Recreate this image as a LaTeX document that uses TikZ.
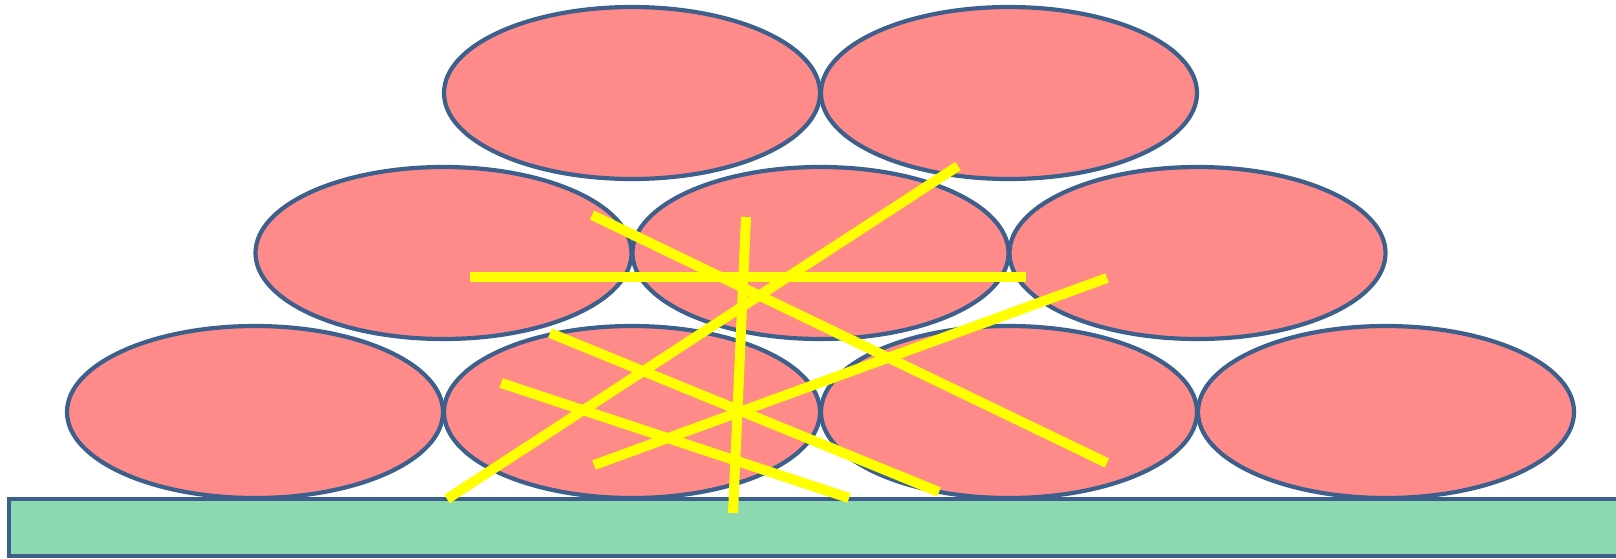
\documentclass[tikz,border=0pt]{standalone}
\usetikzlibrary{shapes.geometric}
\definecolor{cellfill}{RGB}{255,138,138}
\definecolor{edgeblue}{RGB}{60,95,140}
\definecolor{basegreen}{RGB}{140,217,176}
\definecolor{fibre}{RGB}{255,255,0}
\tikzset{
  cell/.style={ellipse, draw=edgeblue, fill=cellfill, line width=4.2pt,
    minimum width=376pt, minimum height=172pt, inner sep=0pt},
  base/.style={draw=edgeblue, fill=basegreen, line width=4pt},
  fibreline/.style={draw=fibre, line width=10pt, line cap=butt}
}
\begin{document}
\begin{tikzpicture}[x=1pt,y=-1pt]
\useasboundingbox (0,0) rectangle (1616,558);
\fill[white] (0,0) rectangle (1616,558);
\draw[base] (9,499) rectangle (1625,556);
% bottom row
\node[cell] (b1) at (255,412) {};
\node[cell] (b2) at (632,412) {};
\node[cell] (b3) at (1009,412) {};
\node[cell] (b4) at (1386,412) {};
% middle row
\node[cell] (m1) at (443.5,253) {};
\node[cell] (m2) at (820.5,253) {};
\node[cell] (m3) at (1197.5,253) {};
% top row
\node[cell] (t1) at (632,93) {};
\node[cell] (t2) at (1009,93) {};
% fibres
\coordinate (f1a) at (470,277);  \coordinate (f1b) at (1026,277);
\coordinate (f2a) at (592,215);  \coordinate (f2b) at (1107,463);
\coordinate (f3a) at (746,217);  \coordinate (f3b) at (733,513);
\coordinate (f4a) at (447,499);  \coordinate (f4b) at (958,166);
\coordinate (f5a) at (594,465);  \coordinate (f5b) at (1107,278);
\coordinate (f6a) at (550,333);  \coordinate (f6b) at (939,492);
\coordinate (f7a) at (501,383);  \coordinate (f7b) at (849,498);
\draw[fibreline] (f1a) -- (f1b);
\draw[fibreline] (f2a) -- (f2b);
\draw[fibreline] (f3a) -- (f3b);
\draw[fibreline] (f4a) -- (f4b);
\draw[fibreline] (f5a) -- (f5b);
\draw[fibreline] (f6a) -- (f6b);
\draw[fibreline] (f7a) -- (f7b);
\end{tikzpicture}
\end{document}
